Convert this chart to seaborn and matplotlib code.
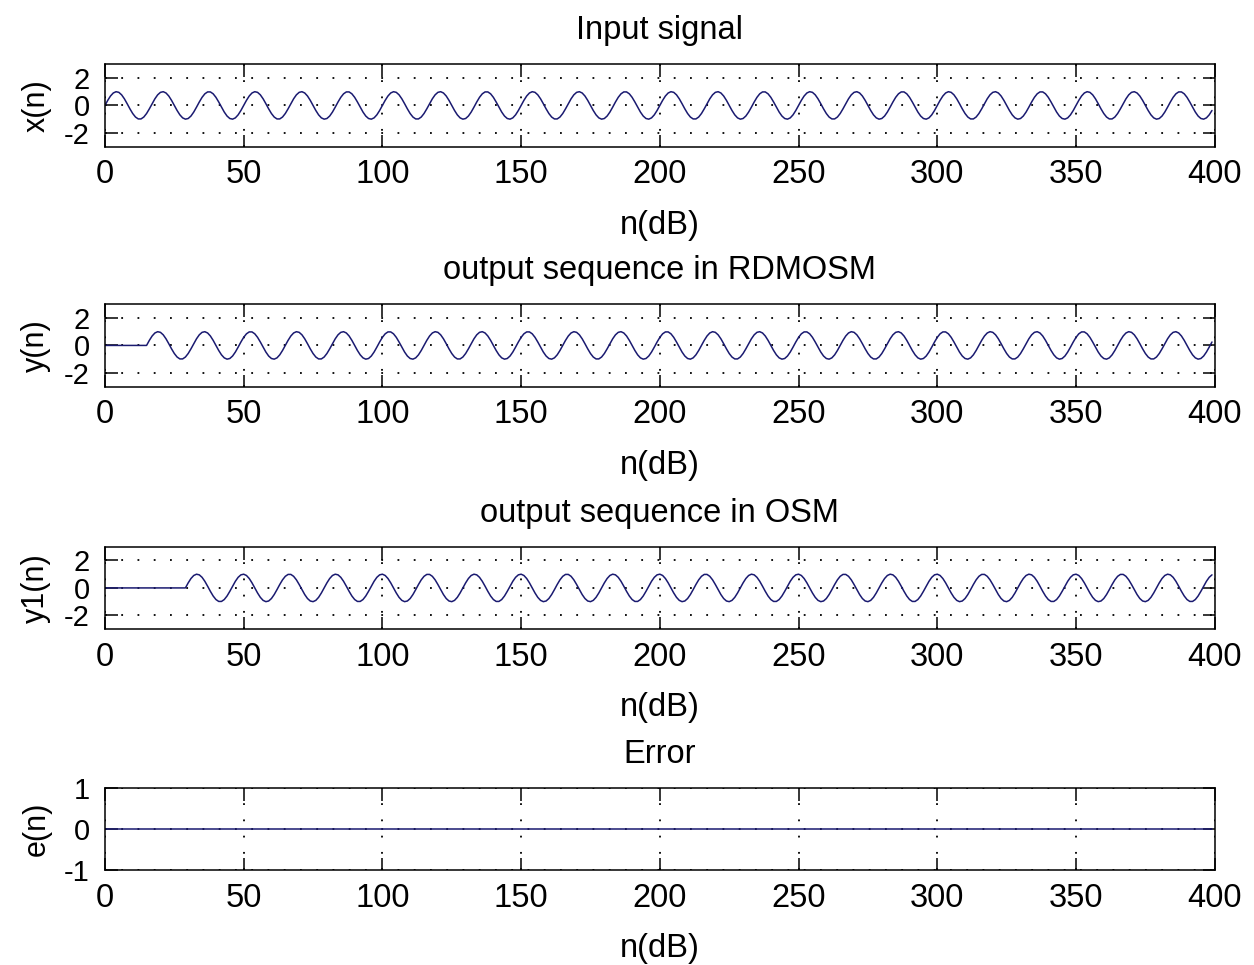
import numpy as np
import pandas as pd
import matplotlib
matplotlib.use("Agg")
import matplotlib.pyplot as plt
import seaborn as sns

# ---- data ----
# one repeating 50-sample block (three cycles) of the input sinusoid
block = [0.0, 0.368, 0.685, 0.905, 0.998, 0.951, 0.771, 0.482, 0.125, -0.249,
         -0.588, -0.844, -0.982, -0.982, -0.844, -0.588, -0.249, 0.125, 0.482, 0.771,
         0.951, 0.998, 0.905, 0.685, 0.368, 0.0, -0.368, -0.685, -0.905, -0.998,
         -0.951, -0.771, -0.482, -0.125, 0.249, 0.588, 0.844, 0.982, 0.982, 0.844,
         0.588, 0.249, -0.125, -0.482, -0.771, -0.951, -0.998, -0.905, -0.685, -0.368]
n_samples = 400
rdmosm_lead_zeros = 16   # flat start of y(n)
osm_lead_zeros = 30      # flat start of y1(n)

titles = ["Input signal", "output sequence in RDMOSM", "output sequence in OSM", "Error"]
ylabels = ["x(n)", "y(n)", "y1(n)", "e(n)"]
xlabel = "n(dB)"
xticks = [0, 50, 100, 150, 200, 250, 300, 350, 400]
yticks_sig = [-2, 0, 2]
yticks_err = [-1, 0, 1]

n = np.arange(n_samples)
x_sig = np.tile(block, n_samples // len(block))
y_sig = np.concatenate([np.zeros(rdmosm_lead_zeros), x_sig[1:n_samples - rdmosm_lead_zeros + 1]])
y1_sig = np.concatenate([np.zeros(osm_lead_zeros), x_sig[1:n_samples - osm_lead_zeros + 1]])
e_sig = np.zeros(n_samples)

series = [x_sig, y_sig, y1_sig, e_sig]

# ---- style ----
sns.set_theme(style="white")
plt.rcParams['font.family'] = ['Liberation Sans', 'DejaVu Sans']
plt.rcParams['font.size'] = 23.5
plt.rcParams['axes.unicode_minus'] = False
plt.rcParams['text.color'] = 'black'
plt.rcParams['axes.labelcolor'] = 'black'

fig = plt.figure(figsize=(12.54, 9.65), dpi=100)
fig.patch.set_facecolor("white")

left, width, height = 0.0837, 0.885, 0.0855
bottoms = [0.8480, 0.5993, 0.3480, 0.0984]
line_color = "#1a1a70"

for i in range(4):
    ax = fig.add_axes([left, bottoms[i], width, height])
    df = pd.DataFrame({"n": n, "v": series[i]})
    sns.lineplot(data=df, x="n", y="v", ax=ax, color=line_color, linewidth=1.1)
    ax.set_xlim(0, 400)
    if i < 3:
        ax.set_ylim(-3, 3)
        ax.set_yticks(yticks_sig)
    else:
        ax.set_ylim(-1, 1)
        ax.set_yticks(yticks_err)
    ax.set_xticks(xticks)
    ax.set_facecolor("white")
    ax.grid(True, color="black", linestyle=(0, (1, 8)), linewidth=1.3)
    ax.tick_params(direction="in", length=9, width=1.1, bottom=True, left=True,
                   top=True, right=True, pad=9,
                   colors="black", labelcolor="black")
    ax.tick_params(axis="x", labelsize=23.5)
    ax.tick_params(axis="y", labelsize=21, pad=11)
    for sp in ax.spines.values():
        sp.set_visible(True)
        sp.set_color("black")
        sp.set_linewidth(1.1)
    ax.set_title(titles[i], fontsize=23.5, pad=18, color="black")
    ax.set_xlabel(xlabel, fontsize=23.5, labelpad=14, color="black")
    ax.set_ylabel(ylabels[i], fontsize=22, labelpad=9, color="black")

fig.savefig("out.png", dpi=100, facecolor="white")
